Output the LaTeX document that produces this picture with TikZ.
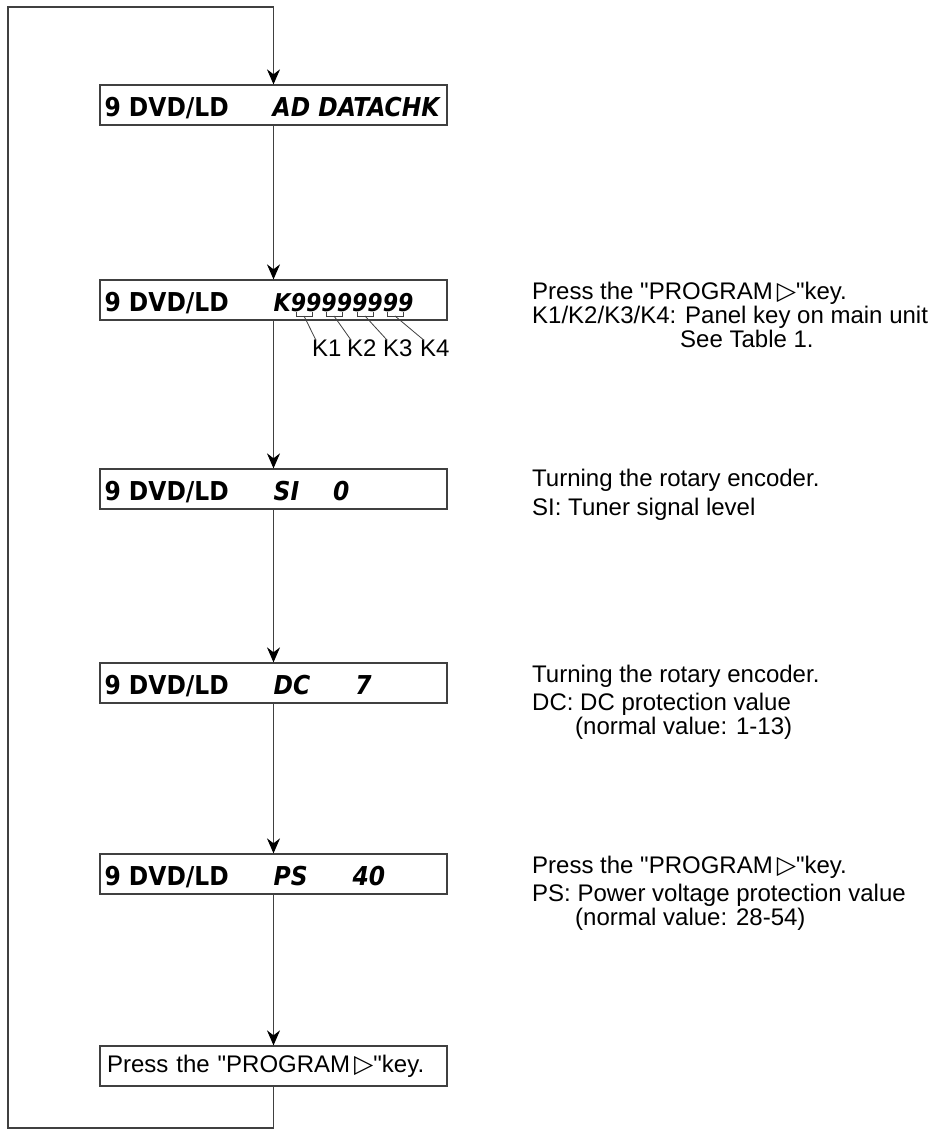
\documentclass[tikz,border=0pt]{standalone}
\usepackage{fontspec}
\newfontfamily\notefont{Liberation Sans}
\newfontfamily\lcdfont{DejaVu Sans Condensed Bold}
\newfontfamily\lcditfont{DejaVu Sans Condensed Bold Oblique}
\newfontfamily\symfont{DejaVu Sans}
\usepackage{tikz}
\usetikzlibrary{arrows.meta,positioning}

\newcommand{\lcd}{\lcdfont\fontsize{26}{30}\selectfont}
\newcommand{\lcdit}{\lcditfont\fontsize{26}{30}\selectfont}
\newcommand{\notesize}{\notefont\fontsize{24}{28}\selectfont}
\newcommand{\prog}{{\hspace{4pt}\symfont\fontsize{25}{25}\selectfont\smash{▷}}}

\begin{document}
\begin{tikzpicture}[x=1pt, y=1pt,
    box/.style={rectangle, draw=black!75, line width=1.2pt, minimum width=347pt, minimum height=40pt, inner sep=0pt},
    lcdl/.style={anchor=base west, inner sep=0pt, font=\lcd},
    lcdr/.style={anchor=base west, inner sep=0pt, font=\lcdit},
    note/.style={anchor=base west, inner sep=0pt, font=\notesize},
    arrow/.style={-{Stealth[length=15pt, width=13pt, black]}, line width=1.2pt, draw=black!75},
    tick/.style={line width=0.8pt, draw=black!75}]

    \useasboundingbox (0,0) rectangle (927,1130);

    % display boxes
    \node[box] (datachk) at (273.5,1025) {};
    \node[box] (keys) at (273.5,830) {};
    \node[box] (signal) at (273.5,641) {};
    \node[box] (dcprot) at (273.5,447) {};
    \node[box] (psprot) at (273.5,256) {};
    \node[box, font=\notesize, text width=333pt, align=left] (press) at (273.5,64) {Press the "PROGRAM\prog"key.};

    \foreach \b in {datachk,keys,signal,dcprot,psprot}
        \node[lcdl] (\b-mode) at ([shift={(5,9)}]\b.south west) {9 DVD/LD};

    \node[lcdr] (datachk-val) at ([shift={(-1,9)}]datachk.south) {AD DATACHK};
    \node[lcdr, font=\lcditfont\fontsize{24.5}{30}\selectfont] (keys-val) at ([shift={(0,9)}]keys.south) {K99999999};
    \node[lcdr] (signal-val) at ([shift={(0,9)}]signal.south) {SI\hspace*{34pt}0};
    \node[lcdr] (dcprot-val) at ([shift={(0,9)}]dcprot.south) {DC\hspace*{45pt}7};
    \node[lcdr] (psprot-val) at ([shift={(0,9)}]psprot.south) {PS\hspace*{45pt}40};

    % key digits
    \foreach \i/\bx/\kx in {1/304/312, 2/334/347, 3/365/383, 4/395/420} {
        \node[note] (k\i) at (\kx,773) {K\i};
        \coordinate (br\i) at (\bx,814);
        \draw[tick] ([shift={(-8,4)}]br\i) -- ++(0,-4) -- ++(16,0) -- ++(0,4);
        \draw[tick] (br\i) -- ([xshift=4]k\i.north west);
    }

    % notes
    \node[note] (keys-n1) at (532,830) {Press the "PROGRAM\prog"key.};
    \node[note] (keys-n2) at (532,806) {K1/K2/K3/K4: Panel key on main unit};
    \node[note] (keys-n3) at (680,782) {See Table 1.};
    \node[note] (signal-n1) at (532,643) {Turning the rotary encoder.};
    \node[note] (signal-n2) at (532,614) {SI: Tuner signal level};
    \node[note] (dcprot-n1) at (532,447) {Turning the rotary encoder.};
    \node[note] (dcprot-n2) at (532,419) {DC: DC protection value};
    \node[note] (dcprot-n3) at (575,395) {(normal value: 1-13)};
    \node[note] (psprot-n1) at (532,256) {Press the "PROGRAM\prog"key.};
    \node[note] (psprot-n2) at (532,228) {PS: Power voltage protection value};
    \node[note] (psprot-n3) at (575,204) {(normal value: 28-54)};

    % flow
    \draw[arrow] (datachk) -- (keys);
    \draw[arrow] (keys) -- (signal);
    \draw[arrow] (signal) -- (dcprot);
    \draw[arrow] (dcprot) -- (psprot);
    \draw[arrow] (psprot) -- (press);

    \coordinate (loopbl) at (8,2);
    \coordinate (looptl) at (8,1123);
    \draw[arrow] (press.south) |- (loopbl) -- (looptl) -| (datachk.north);
\end{tikzpicture}
\end{document}
